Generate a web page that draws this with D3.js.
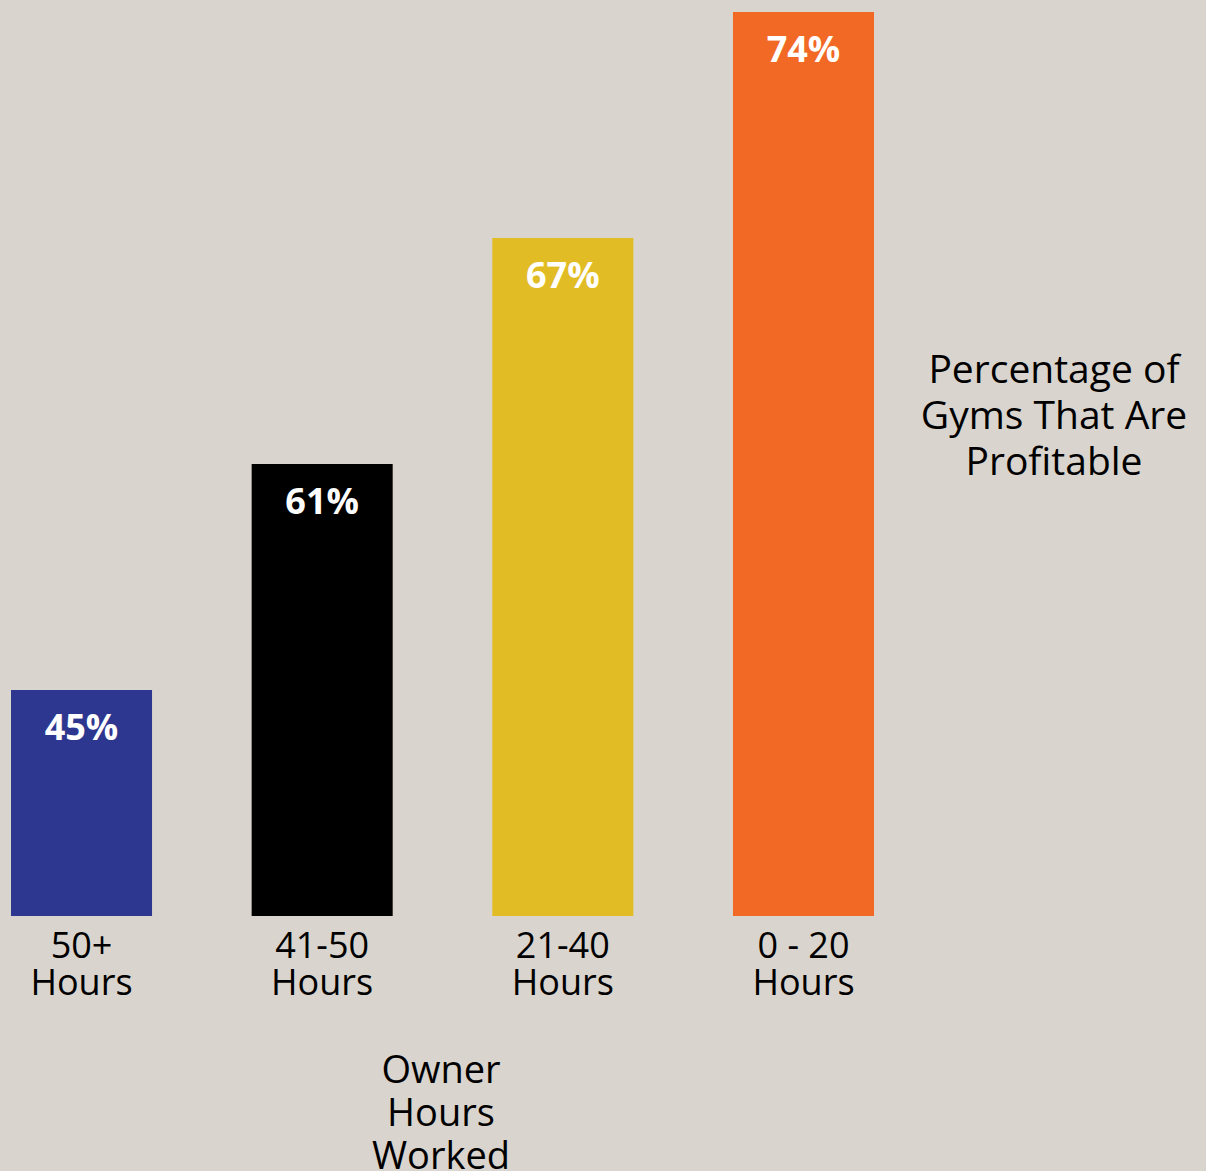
<!DOCTYPE html>
<html>
<head>
<meta charset="utf-8">
<script src="https://cdn.jsdelivr.net/npm/d3@7"></script>
<style>
  html, body { margin: 0; padding: 0; background: #d9d4cd; }
  svg { display: block; }
  text { font-family: "Open Sans", "Noto Sans", sans-serif; }
</style>
</head>
<body>
<svg id="chart" width="1206" height="1171"></svg>
<script>
const categories = ["50+|Hours", "41-50|Hours", "21-40|Hours", "0 - 20|Hours"];
const values = [45, 61, 67, 74];
const colors = ["#2e3790", "#000000", "#e2bc24", "#f26825"];
const valueLabels = ["45%", "61%", "67%", "74%"];
const sideTitle = ["Percentage of", "Gyms That Are", "Profitable"];
const axisTitle = ["Owner", "Hours", "Worked"];

const svg = d3.select("#chart");
const W = 1206, H = 1171;
svg.append("rect").attr("width", W).attr("height", H).attr("fill", "#d9d4cd");

// Bars in the reference are drawn as equal steps by rank of value
const sorted = values.slice().sort((a, b) => a - b);
const rank = values.map(v => sorted.indexOf(v) + 1);

const x = d3.scaleBand().domain(categories).range([11, 874]).paddingInner(0.414).paddingOuter(0);
const y = d3.scaleLinear().domain([0, 4]).range([916, 12]);

const data = categories.map((c, i) => ({ c, v: values[i], r: rank[i], color: colors[i], label: valueLabels[i] }));

const g = svg.append("g");
g.selectAll("rect.bar").data(data).join("rect")
  .attr("class", "bar")
  .attr("x", d => x(d.c))
  .attr("y", d => y(d.r))
  .attr("width", x.bandwidth())
  .attr("height", d => y(0) - y(d.r))
  .attr("fill", d => d.color);

g.selectAll("text.val").data(data).join("text")
  .attr("class", "val")
  .attr("x", d => x(d.c) + x.bandwidth() / 2)
  .attr("y", d => y(d.r) + 50)
  .attr("text-anchor", "middle")
  .attr("fill", "#ffffff")
  .attr("font-weight", 700)
  .attr("font-size", 36)
  .text(d => d.label);

// category axis labels
const xAxis = g.append("g");
data.forEach(d => {
  const lines = d.c.split("|");
  const t = xAxis.append("text")
    .attr("x", x(d.c) + x.bandwidth() / 2)
    .attr("y", 958)
    .attr("text-anchor", "middle")
    .attr("font-size", 36)
    .attr("fill", "#000");
  lines.forEach((ln, k) => {
    t.append("tspan").attr("x", x(d.c) + x.bandwidth() / 2).attr("dy", k === 0 ? 0 : 37).text(ln);
  });
});

// axis title
const at = svg.append("text").attr("x", 441).attr("y", 1083).attr("text-anchor", "middle")
  .attr("font-size", 38).attr("fill", "#000");
axisTitle.forEach((ln, k) => at.append("tspan").attr("x", 441).attr("dy", k === 0 ? 0 : 43).text(ln));

// side title
const st = svg.append("text").attr("x", 1054).attr("y", 383).attr("text-anchor", "middle")
  .attr("font-size", 39).attr("fill", "#000");
sideTitle.forEach((ln, k) => st.append("tspan").attr("x", 1054).attr("dy", k === 0 ? 0 : 46).text(ln));
</script>
</body>
</html>
